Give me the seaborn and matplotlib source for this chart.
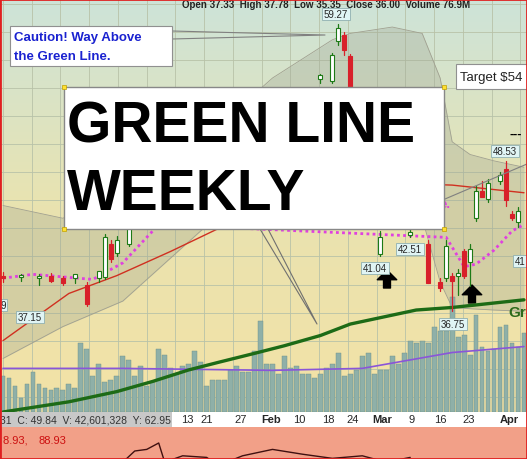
import numpy as np
import pandas as pd
import matplotlib
matplotlib.use("Agg")
import matplotlib.pyplot as plt
import seaborn as sns
from matplotlib.patches import Rectangle

sns.set_style("white")
plt.rcParams['font.family'] = ['Liberation Sans', 'DejaVu Sans']

W, H = 527, 460

# volume per bar (millions)
volume = [18, 17, 13, 7, 14, 20, 14, 12, 11, 12, 11, 14, 12, 35, 32, 18, 24, 15, 16, 18,
          28, 26, 18, 23, 13, 15, 32, 29, 22, 19, 23, 24, 31, 25, 13, 16, 16, 16, 21, 23,
          20, 20, 31, 46, 24, 24, 19, 28, 22, 23, 19, 19, 17, 19, 22, 24, 30, 18, 19, 21,
          28, 30, 19, 21, 21, 28, 24, 30, 36, 35, 36, 35, 43, 41, 41, 58, 38, 39, 29, 49,
          33, 31, 32, 43, 44, 35, 33, 40]
vol_avg_x = [0, 20, 45, 60, 75, 87]
vol_avg = [22, 22, 21, 22, 30, 33]

# 30-week green line and red line (price)
green_x = [0, 11, 19, 25, 31, 36, 42, 47, 53, 58, 64, 69, 75, 81, 87]
green_y = [28.8, 29.6, 30.4, 31.2, 32.1, 32.7, 33.4, 34.0, 34.8, 35.7, 36.3, 36.8, 37.0, 37.3, 37.6]
red_x = [0, 11, 19, 28, 36, 50, 62, 75, 81, 87]
red_y = [34.4, 38.1, 39.5, 41.4, 43.2, 45.5, 46.8, 46.6, 46.3, 46.0]
pink_x = [0, 5, 10, 15, 20, 26, 74, 77, 79, 82, 85, 87]
pink_y = [39.3, 39.6, 39.4, 39.2, 40.5, 43.5, 42.5, 40.2, 40.4, 41.5, 43.0, 43.5]

# bollinger band
bb_x = [0, 10, 20, 33, 45, 55, 58, 65, 70, 73, 75, 78, 82, 87]
bb_up = [45, 44, 46, 50, 55, 58, 58.5, 59, 58.5, 55, 50, 49, 48.5, 48]
bb_lo = [33, 35.5, 37.5, 43, 48, 50, 50, 50, 44, 39, 37, 36.9, 36.8, 36.7]

# candles: index, open, high, low, close
candles = [
    (0, 39.5, 39.8, 39.0, 39.3), (3, 39.4, 39.6, 39.1, 39.5), (6, 39.3, 39.6, 38.8, 39.4),
    (8, 39.5, 39.7, 39.0, 39.1), (10, 39.3, 39.5, 38.8, 38.9), (12, 39.3, 39.6, 38.9, 39.6),
    (14, 38.8, 39.0, 37.15, 37.3), (16, 39.3, 39.9, 39.0, 39.9), (17, 39.4, 42.8, 39.2, 42.5),
    (18, 42.0, 42.3, 40.6, 40.8), (19, 41.3, 42.6, 41.0, 42.3), (21, 42.0, 43.5, 41.8, 43.3),
    (24, 44.5, 45.0, 44.0, 44.4), (28, 45.3, 46.8, 45.0, 46.7), (33, 47.2, 48.0, 46.9, 47.7),
    (38, 48.4, 49.5, 48.0, 49.2), (44, 48.8, 50.2, 48.5, 50.0), (48, 49.2, 50.8, 49.0, 50.6),
    (52, 52.2, 52.8, 52.0, 52.5), (53, 54.9, 55.3, 54.6, 55.2), (55, 54.8, 57.0, 54.6, 56.8),
    (56, 57.9, 59.27, 57.6, 58.9), (57, 58.4, 58.6, 56.8, 57.2), (58, 56.7, 56.9, 53.8, 54.2),
    (60, 53.0, 53.5, 49.0, 49.5), (62, 48.0, 48.5, 45.0, 45.5),
    (63, 41.2, 43.0, 41.04, 42.5), (68, 42.7, 43.2, 42.51, 42.9), (71, 42.0, 42.3, 38.9, 38.9),
    (73, 39.0, 39.3, 38.3, 38.5), (74, 39.3, 42.3, 39.1, 41.8), (75, 39.5, 39.7, 36.75, 39.1),
    (76, 39.5, 40.0, 38.0, 39.7), (77, 41.4, 41.6, 39.3, 39.5), (78, 40.6, 42.0, 38.7, 41.6),
    (79, 44.0, 46.5, 43.8, 46.1), (80, 46.1, 46.9, 45.8, 45.7), (81, 45.5, 47.1, 45.3, 46.8),
    (83, 46.9, 47.6, 46.7, 47.4), (84, 47.9, 48.53, 45.0, 45.4), (85, 44.3, 44.6, 43.9, 44.0),
    (86, 43.7, 44.9, 43.3, 44.6),
]

tick_pos = [30.8, 34.0, 39.7, 44.7, 49.5, 54.3, 58.3, 63.3, 68.2, 73.0, 77.8, 84.5]
tick_lab = ["13", "21", "27", "Feb", "10", "18", "24", "Mar", "9", "16", "23", "Apr"]

fig = plt.figure(figsize=(W / 100, H / 100), dpi=100)
fig.patch.set_facecolor("white")

ax = fig.add_axes([0, 47 / H, 1, 413 / H])
ymin, ymax = 28.8, 61.2
xmin, xmax = -0.5, 87.5
# background gradient green -> yellow
grad = np.linspace(0, 1, 256).reshape(-1, 1)
cmap = matplotlib.colors.LinearSegmentedColormap.from_list("bg", ["#cde4d9", "#e9e3b0", "#f3e2a6"])
ax.imshow(grad, extent=[xmin, xmax, ymin, ymax], origin="upper", aspect="auto", cmap=cmap, zorder=0)
for gx in np.arange(0, 88, 4.8):
    ax.axvline(gx, color="#b8c2a8", lw=0.6, zorder=0.5)
for gy in np.arange(30, 62, 2.2):
    ax.axhline(gy, color="#b8c2a8", lw=0.6, zorder=0.5)

ax.fill_between(bb_x, bb_lo, bb_up, color="#9aa090", alpha=0.3, lw=0, zorder=1)
ax.plot(bb_x, bb_up, color="#a0a090", lw=0.6, zorder=1)
ax.plot(bb_x, bb_lo, color="#a0a090", lw=0.6, zorder=1)

# volume on twin axis
axv = ax.twinx()
vdf = pd.DataFrame({"i": np.arange(len(volume)), "v": volume})
axv.bar(vdf["i"], vdf["v"], width=0.8, color="#8fb0a8", edgecolor="#6d8f88", lw=0.3, zorder=2)
axv.plot(vol_avg_x, vol_avg, color="#8a55d8", lw=1.2, zorder=3)
axv.set_ylim(0, 413 / 115 * 58)
axv.set_xlim(xmin, xmax)
axv.axis("off")

axp = ax.twinx()
axp.set_ylim(ymin, ymax)
axp.set_xlim(xmin, xmax)
axp.axis("off")
sns.lineplot(x=red_x, y=red_y, ax=axp, color="#d03020", lw=1.0)
sns.lineplot(x=green_x, y=green_y, ax=axp, color="#1d6b16", lw=2.4)
axp.plot(pink_x, pink_y, color="#e040e0", lw=2, ls=(0, (1, 1.2)))
for i, o, h, l, c in candles:
    up = c >= o
    col = "#1d7a16" if up else "#d8202a"
    axp.plot([i, i], [l, h], color=col, lw=0.9, zorder=4)
    axp.add_patch(Rectangle((i - 0.35, min(o, c)), 0.7, max(abs(c - o), 0.15),
                            facecolor="white" if up else col, edgecolor=col, lw=0.8, zorder=5))

ax.set_xlim(xmin, xmax)
ax.set_ylim(ymin, ymax)
ax.set_xticks([]); ax.set_yticks([])
for s in ax.spines.values():
    s.set_visible(False)

def px(x, y):
    return x / W, 1 - y / H

def ftext(x, y, s, **kw):
    fig.text(*px(x, y), s, **kw)

# price labels
lab_box = dict(boxstyle="square,pad=0.15", fc="#e0f4f4", ec="#90b0b0", lw=0.6)
for s, x, y in [("59.27", 336, 15), ("48.53", 505, 152), ("41.04", 375, 269), ("42.51", 410, 250),
                ("36.75", 453, 325), ("37.15", 30, 318), ("9", 3, 306), ("41", 520, 262)]:
    ftext(x, y, s, fontsize=7, ha="center", va="center", bbox=lab_box, zorder=10)

# arrows
for x, y in [(387, 285), (472, 300)]:
    ax.annotate("", xy=px(x, y - 14), xytext=px(x, y + 4), xycoords="figure fraction",
                arrowprops=dict(facecolor="black", edgecolor="black", width=5, headwidth=14, headlength=7))

# top info strip
ftext(182, 5, "Open 37.33  High 37.78  Low 35.35  Close 36.00  Volume 76.9M", fontsize=7,
      fontweight="bold", va="center", color="#222222")

# callout pointers
fig.add_artist(plt.Line2D([172 / W, 325 / W, 172 / W], [1 - 32 / H, 1 - 36 / H, 1 - 40 / H],
                          color="#808080", lw=0.8))
fig.add_artist(plt.Line2D([260 / W, 317 / W, 268 / W], [1 - 230 / H, 1 - 325 / H, 1 - 230 / H],
                          color="#707070", lw=0.8))
fig.add_artist(plt.Line2D([445 / W, 527 / W, 527 / W], [1 - 200 / H, 1 - 165 / H, 1 - 185 / H],
                          color="#808080", lw=0.8))

fig.add_artist(Rectangle(px(10, 67), 162 / W, 40 / H, transform=fig.transFigure,
                         fc="white", ec="#909090", lw=0.8, zorder=8))
ftext(14, 38, "Caution! Way Above", fontsize=9.5, fontweight="bold", color="#1a22d0", va="center", zorder=9)
ftext(14, 57, "the Green Line.", fontsize=9.5, fontweight="bold", color="#1a22d0", va="center", zorder=9)
fig.add_artist(Rectangle(px(456, 90), 75 / W, 25 / H, transform=fig.transFigure,
                         fc="white", ec="#909090", lw=0.8, zorder=8))
ftext(460, 78, "Target $54", fontsize=9.5, color="#222222", va="center", zorder=9)
ftext(440, 205, "e.", fontsize=9.5, fontweight="bold", color="#e040e0", va="center")
ftext(510, 135, "---", fontsize=9, fontweight="bold", color="black", va="center")
ftext(508, 313, "Gr", fontsize=11, fontweight="bold", color="#2d6a1a", va="center")

# main title box
fig.add_artist(Rectangle(px(64, 230), 380 / W, 142 / H, transform=fig.transFigure,
                         fc="white", ec="#888888", lw=1, zorder=8))
for cx, cy in [(64, 88), (444, 88), (64, 230), (444, 230)]:
    fig.add_artist(Rectangle(px(cx - 2, cy + 2), 4 / W, 4 / H, transform=fig.transFigure,
                             fc="#ffe030", ec="#c0a000", lw=0.5, zorder=9))
ftext(67, 128, "GREEN LINE", fontsize=41, fontweight="bold", color="black", va="center", zorder=9)
ftext(67, 195, "WEEKLY", fontsize=41, fontweight="bold", color="black", va="center", zorder=9)

# date strip
axs = fig.add_axes([0, 32 / H, 1, 15 / H])
axs.set_xlim(xmin, xmax)
axs.set_ylim(0, 1)
axs.set_facecolor("white")
axs.add_patch(Rectangle((xmin, 0), 28.8, 1, fc="#c8c8c8", lw=0))
axs.text(-0.5, 0.5, "31  C: 49.84  V: 42,601,328  Y: 62.95", fontsize=7.5, va="center", color="#333333")
for p, l in zip(tick_pos, tick_lab):
    axs.text(p, 0.5, l, fontsize=8, ha="center", va="center",
             fontweight="bold" if l in ("Feb", "Mar", "Apr") else "normal")
axs.set_xticks([]); axs.set_yticks([])
for s in axs.spines.values():
    s.set_visible(False)

# bottom indicator panel
axr = fig.add_axes([0, 0, 1, 32 / H])
axr.set_facecolor("#f2a088")
axr.set_xlim(xmin, xmax)
axr.set_ylim(0, 1)
axr.text(0, 0.6, "8.93, ", fontsize=8, color="#cc1010", va="center")
axr.text(6, 0.6, "88.93", fontsize=8, color="#cc1010", va="center")
osc_x = [20, 22, 24, 26, 27, 30, 34, 36, 40, 45, 50, 55, 60, 64, 68]
osc_y = [-0.1, 0.25, 0.3, 0.5, -0.1, 0.1, 0.05, -0.2, 0.1, 0.3, 0.15, 0.02, 0.1, -0.1, 0.05]
sns.lineplot(x=osc_x, y=osc_y, ax=axr, color="#401010", lw=1)
axr.set_xticks([]); axr.set_yticks([])
axr.set_xlabel(""); axr.set_ylabel("")
for s in axr.spines.values():
    s.set_visible(False)

fig.add_artist(Rectangle((0, 0), 1, 1, transform=fig.transFigure, fill=False, ec="#e02020", lw=2, zorder=20))
fig.savefig("out.png", dpi=100)
